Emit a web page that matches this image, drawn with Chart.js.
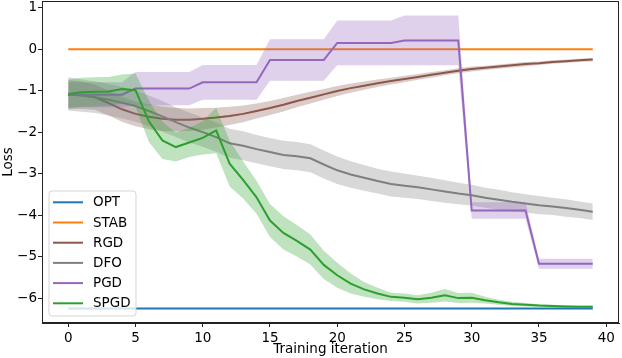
<!DOCTYPE html>
<html>
<head>
<meta charset="utf-8">
<script src="https://cdn.jsdelivr.net/npm/chart.js@4.4.1/dist/chart.umd.min.js"></script>
<style>
  html, body { margin: 0; padding: 0; background: #fff; }
  #wrap { width: 622px; height: 358px; }
</style>
</head>
<body>
<div id="wrap"><canvas id="lossChart" width="622" height="358"></canvas></div>
<script>
// Data
const iterations = Array.from({ length: 40 }, (_, i) => i);
const xTicks = [0, 5, 10, 15, 20, 25, 30, 35, 40];
const yTicks = [-6, -5, -4, -3, -2, -1, 0, 1];

const optLoss = [-6.25, -6.25, -6.25, -6.25, -6.25, -6.25, -6.25, -6.25, -6.25, -6.25,
  -6.25, -6.25, -6.25, -6.25, -6.25, -6.25, -6.25, -6.25, -6.25, -6.25,
  -6.25, -6.25, -6.25, -6.25, -6.25, -6.25, -6.25, -6.25, -6.25, -6.25,
  -6.25, -6.25, -6.25, -6.25, -6.25, -6.25, -6.25, -6.25, -6.25, -6.25];

const stabLoss = [0, 0, 0, 0, 0, 0, 0, 0, 0, 0, 0, 0, 0, 0, 0, 0, 0, 0, 0, 0,
  0, 0, 0, 0, 0, 0, 0, 0, 0, 0, 0, 0, 0, 0, 0, 0, 0, 0, 0, 0];

const rgdLoss = [-1.10, -1.11, -1.16, -1.30, -1.45, -1.56, -1.63, -1.68, -1.70, -1.70,
  -1.68, -1.65, -1.61, -1.56, -1.49, -1.42, -1.34, -1.25, -1.17, -1.09,
  -1.01, -0.94, -0.88, -0.82, -0.77, -0.72, -0.67, -0.62, -0.57, -0.52,
  -0.48, -0.45, -0.42, -0.39, -0.36, -0.34, -0.31, -0.29, -0.27, -0.25];
const rgdStd = [0.35, 0.33, 0.30, 0.30, 0.30, 0.30, 0.30, 0.29, 0.28, 0.27,
  0.26, 0.24, 0.22, 0.20, 0.18, 0.17, 0.16, 0.15, 0.14, 0.13,
  0.12, 0.11, 0.10, 0.09, 0.08, 0.08, 0.07, 0.07, 0.06, 0.06,
  0.06, 0.05, 0.05, 0.05, 0.05, 0.04, 0.04, 0.04, 0.04, 0.04];

const dfoLoss = [-1.08, -1.12, -1.16, -1.22, -1.29, -1.37, -1.49, -1.62, -1.76, -1.89,
  -2.00, -2.12, -2.27, -2.33, -2.41, -2.48, -2.55, -2.58, -2.63, -2.78,
  -2.92, -3.02, -3.10, -3.18, -3.25, -3.29, -3.33, -3.38, -3.43, -3.48,
  -3.52, -3.58, -3.63, -3.68, -3.72, -3.76, -3.79, -3.83, -3.87, -3.92];
const dfoStd = [0.40, 0.39, 0.38, 0.38, 0.38, 0.38, 0.37, 0.37, 0.36, 0.36,
  0.35, 0.35, 0.35, 0.35, 0.34, 0.34, 0.34, 0.34, 0.34, 0.34,
  0.33, 0.32, 0.31, 0.30, 0.30, 0.29, 0.28, 0.28, 0.27, 0.26,
  0.25, 0.24, 0.24, 0.23, 0.22, 0.22, 0.21, 0.21, 0.20, 0.20];

const pgdLoss = [-1.10, -1.10, -1.10, -1.10, -1.10, -0.95, -0.95, -0.95, -0.95, -0.95,
  -0.80, -0.80, -0.80, -0.80, -0.80, -0.26, -0.26, -0.26, -0.26, -0.26,
  0.15, 0.15, 0.15, 0.15, 0.15, 0.21, 0.21, 0.21, 0.21, 0.21,
  -3.89, -3.89, -3.89, -3.89, -3.89, -5.17, -5.17, -5.17, -5.17, -5.17];
const pgdStd = [0.30, 0.30, 0.30, 0.30, 0.30, 0.40, 0.40, 0.40, 0.40, 0.40,
  0.42, 0.42, 0.42, 0.42, 0.42, 0.50, 0.50, 0.50, 0.50, 0.50,
  0.54, 0.54, 0.54, 0.54, 0.54, 0.60, 0.60, 0.60, 0.60, 0.60,
  0.20, 0.20, 0.20, 0.20, 0.20, 0.12, 0.12, 0.12, 0.12, 0.12];

const spgdLoss = [-1.08, -1.04, -1.03, -1.02, -0.96, -0.99, -1.74, -2.20, -2.36, -2.25,
  -2.14, -1.96, -2.76, -3.15, -3.57, -4.13, -4.43, -4.62, -4.83, -5.20,
  -5.45, -5.65, -5.79, -5.89, -5.97, -5.99, -6.03, -5.99, -5.93, -6.00,
  -5.99, -6.05, -6.10, -6.14, -6.16, -6.18, -6.19, -6.20, -6.21, -6.21];
const spgdStd = [0.35, 0.35, 0.35, 0.35, 0.35, 0.40, 0.50, 0.45, 0.35, 0.35,
  0.40, 0.55, 0.55, 0.45, 0.40, 0.40, 0.40, 0.38, 0.36, 0.34,
  0.30, 0.24, 0.18, 0.14, 0.10, 0.10, 0.10, 0.12, 0.15, 0.12,
  0.12, 0.08, 0.06, 0.05, 0.04, 0.03, 0.03, 0.03, 0.03, 0.03];

const series = [
  { name: 'OPT',  color: '#1f77b4', band: 'rgba(31,119,180,0.3)',  mean: optLoss,  std: null },
  { name: 'STAB', color: '#ff7f0e', band: 'rgba(255,127,14,0.3)',  mean: stabLoss, std: null },
  { name: 'RGD',  color: '#8c564b', band: 'rgba(140,86,75,0.3)',   mean: rgdLoss,  std: rgdStd },
  { name: 'DFO',  color: '#7f7f7f', band: 'rgba(127,127,127,0.3)', mean: dfoLoss,  std: dfoStd },
  { name: 'PGD',  color: '#9467bd', band: 'rgba(148,103,189,0.3)', mean: pgdLoss,  std: pgdStd },
  { name: 'SPGD', color: '#2ca02c', band: 'rgba(44,160,44,0.3)',   mean: spgdLoss, std: spgdStd }
];

const FONT = 'DejaVu Sans';
const FSIZE = 13.5;

function pts(arr) {
  return arr.map((v, i) => ({ x: iterations[i], y: v }));
}

// build datasets: band upper/lower + mean line per series
const datasets = [];
const nSeries = series.length;
series.forEach((s, k) => {
  // later series on top, like matplotlib
  const base = (nSeries - 1 - k) * 2;
  if (s.std) {
    datasets.push({
      label: s.name + ' upper', isBand: true,
      data: pts(s.mean.map((m, i) => m + s.std[i])),
      borderWidth: 0, pointRadius: 0, backgroundColor: s.band,
      fill: '+1', order: base + 1
    });
    datasets.push({
      label: s.name + ' lower', isBand: true,
      data: pts(s.mean.map((m, i) => m - s.std[i])),
      borderWidth: 0, pointRadius: 0, fill: false, order: base + 1
    });
  }
  datasets.push({
    label: s.name,
    data: pts(s.mean),
    borderColor: s.color,
    borderWidth: 2,
    pointRadius: 0,
    fill: false,
    tension: 0,
    order: base
  });
});

// frame + legend in the lower left corner
const framePlugin = {
  id: 'frameAndLegend',
  afterDraw(chart) {
    const ctx = chart.ctx;
    const a = chart.chartArea;
    ctx.save();
    ctx.strokeStyle = '#222';
    ctx.lineWidth = 1;
    ctx.strokeRect(Math.round(a.left) + 0.5, Math.round(a.top) + 0.5,
      Math.round(a.right - a.left) - 1, Math.round(a.bottom - a.top) - 1);

    // legend box
    const bx = 49, by = 191, bw = 87, bh = 125, r = 3;
    ctx.beginPath();
    ctx.moveTo(bx + r, by);
    ctx.arcTo(bx + bw, by, bx + bw, by + bh, r);
    ctx.arcTo(bx + bw, by + bh, bx, by + bh, r);
    ctx.arcTo(bx, by + bh, bx, by, r);
    ctx.arcTo(bx, by, bx + bw, by, r);
    ctx.closePath();
    ctx.fillStyle = 'rgba(255,255,255,0.8)';
    ctx.fill();
    ctx.strokeStyle = 'rgba(204,204,204,0.8)';
    ctx.stroke();

    ctx.font = FSIZE + 'px "' + FONT + '"';
    ctx.textBaseline = 'middle';
    ctx.textAlign = 'left';
    series.forEach((s, k) => {
      const yy = 202.3 + k * 20.2;
      ctx.strokeStyle = s.color;
      ctx.lineWidth = 2;
      ctx.beginPath();
      ctx.moveTo(53, yy);
      ctx.lineTo(83, yy);
      ctx.stroke();
      ctx.fillStyle = '#000';
      ctx.fillText(s.name, 93, yy + 0.5);
    });
    ctx.restore();
  }
};

function minusLabel(v) {
  return v < 0 ? '\u2212' + Math.abs(v) : String(v);
}

const ctx = document.getElementById('lossChart').getContext('2d');
new Chart(ctx, {
  type: 'line',
  data: { datasets: datasets },
  options: {
    responsive: false,
    animation: false,
    layout: { padding: { top: 1, right: 3, left: 0, bottom: 0 } },
    plugins: {
      legend: { display: false },
      tooltip: { enabled: false },
      filler: { propagate: false }
    },
    scales: {
      x: {
        type: 'linear',
        min: -1.95,
        max: 40.95,
        afterBuildTicks: (scale) => { scale.ticks = xTicks.map(v => ({ value: v })); },
        afterFit: (scale) => {
          scale.height = 35;
          scale.paddingLeft = 0;
          scale.paddingRight = 0;
        },
        grid: { drawOnChartArea: false, drawTicks: true, tickLength: 4, color: '#222' },
        border: { display: true, color: '#222' },
        ticks: { color: '#000', padding: 3, maxRotation: 0, font: { family: FONT, size: FSIZE }, callback: minusLabel },
        title: { display: true, text: 'Training iteration', color: '#000', padding: 0, font: { family: FONT, size: FSIZE } }
      },
      y: {
        type: 'linear',
        min: -6.6,
        max: 1.16,
        afterBuildTicks: (scale) => { scale.ticks = yTicks.map(v => ({ value: v })); },
        afterFit: (scale) => {
          scale.width = 42;
          scale.paddingTop = 0;
          scale.paddingBottom = 0;
        },
        grid: { drawOnChartArea: false, drawTicks: true, tickLength: 4, color: '#222' },
        border: { display: true, color: '#222' },
        ticks: { color: '#000', padding: 1, font: { family: FONT, size: FSIZE }, callback: minusLabel },
        title: { display: true, text: 'Loss', color: '#000', padding: 0, font: { family: FONT, size: FSIZE } }
      }
    }
  },
  plugins: [framePlugin]
});
</script>
</body>
</html>
